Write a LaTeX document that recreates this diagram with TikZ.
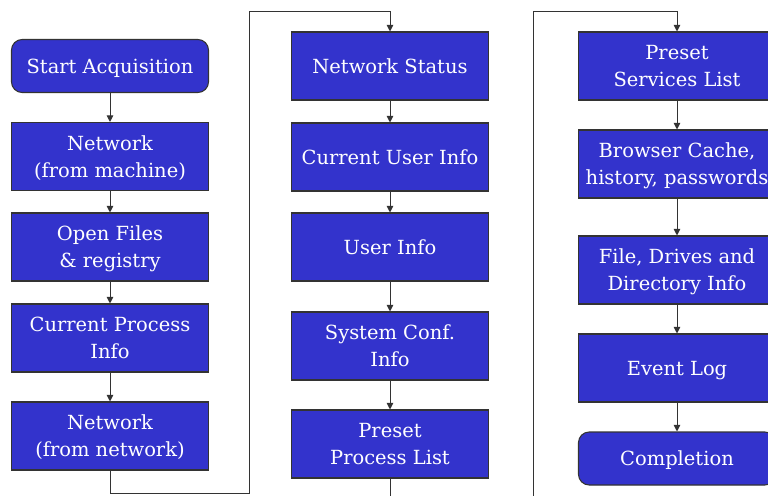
\documentclass[tikz,border=0pt]{standalone}
\usepackage{fontspec}
\setmainfont{DejaVu Serif}
\usetikzlibrary{arrows.meta,positioning}
\definecolor{boxblue}{HTML}{3333CC}
\definecolor{edge}{HTML}{333333}
% a line whose descenders do not count when the text is centred
\newcommand\flatline[1]{\raisebox{0pt}[\height][0pt]{#1}}
\tikzset{
  stepbox/.style={draw=edge, line width=0.8pt, fill=boxblue, text=white,
    minimum width=197*0.75pt, minimum height=68*0.75pt, inner sep=0pt,
    align=center, font=\fontsize{14.6}{20.3}\selectfont},
  termbox/.style={stepbox, rounded corners=8pt, minimum height=53*0.75pt},
  flow/.style={draw=edge, line width=0.75pt, -{Triangle[length=5pt,width=5pt]}}
}
\begin{document}
\begin{tikzpicture}[x=0.75pt,y=-0.75pt]
\useasboundingbox (0,0) rectangle (768,496);
\clip (0,0) rectangle (768,496);
% first column
\node[termbox] (start) at (110,66)  {\flatline{Start Acquisition}};
\node[stepbox] (netm)  at (110,156.5) {Network\\\flatline{(from machine)}};
\node[stepbox] (open)  at (110,247) {Open Files\\\flatline{\&\ registry}};
\node[stepbox] (proc)  at (110,338) {Current Process\\Info};
\node[stepbox] (netn)  at (110,436) {Network\\\flatline{(from network)}};
% second column
\node[stepbox] (stat)  at (390,66)  {Network Status};
\node[stepbox] (cur)   at (390,157) {Current User Info};
\node[stepbox] (user)  at (390,247) {User Info};
\node[stepbox] (sys)   at (390,346) {System Conf.\\Info};
\node[stepbox] (ppl)   at (390,444) {Preset\\Process List};
% third column
\node[stepbox] (psl)   at (677,66)  {Preset\\Services List};
\node[stepbox] (brow)  at (677,164) {Browser Cache,\\\flatline{history, passwords}};
\node[stepbox] (file)  at (677,270) {File, Drives and\\\flatline{Directory Info}};
\node[stepbox] (evt)   at (677,368) {\flatline{Event Log}};
\node[termbox] (done)  at (677,458.5) {\flatline{Completion}};
% turning points of the column links
\coordinate (a1) at (249,493);
\coordinate (a2) at (249,11);
\coordinate (b1) at (533,520);
\coordinate (b2) at (533,11);
% arrows down each column
\draw[flow] (start) -- (netm);
\draw[flow] (netm) -- (open);
\draw[flow] (open) -- (proc);
\draw[flow] (proc) -- (netn);
\draw[flow] (stat) -- (cur);
\draw[flow] (cur) -- (user);
\draw[flow] (user) -- (sys);
\draw[flow] (sys) -- (ppl);
\draw[flow] (psl) -- (brow);
\draw[flow] (brow) -- (file);
\draw[flow] (file) -- (evt);
\draw[flow] (evt) -- (done);
% links between columns
\draw[flow] (netn.south) |- (a1) -- (a2) -| (stat.north);
\draw[flow] (ppl.south) |- (b1) -- (b2) -| (psl.north);
\end{tikzpicture}
\end{document}
